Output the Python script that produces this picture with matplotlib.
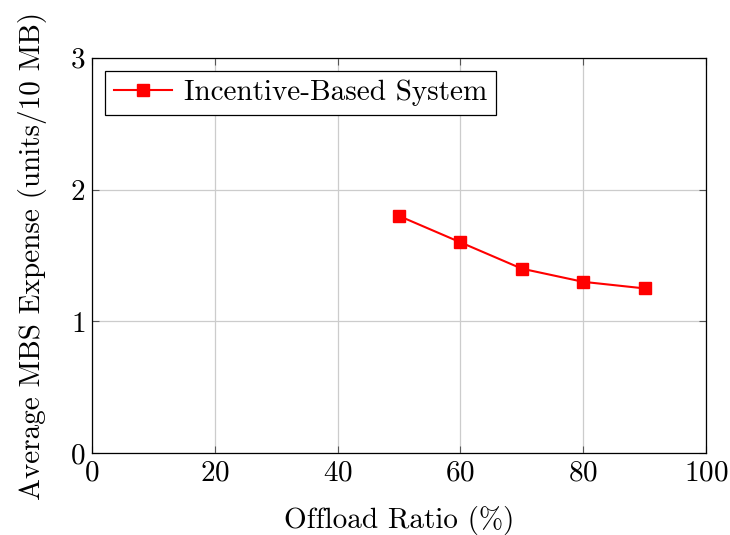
import matplotlib
matplotlib.use('Agg')
import matplotlib.pyplot as plt

plt.rcParams['font.family'] = 'serif'
plt.rcParams['font.serif'] = ['cmr10', 'DejaVu Serif']
plt.rcParams['mathtext.fontset'] = 'cm'
plt.rcParams['axes.formatter.use_mathtext'] = True

# data
offload_ratio = [50, 60, 70, 80, 90]
mbs_expense = [1.8, 1.6, 1.4, 1.3, 1.25]
series_name = 'Incentive-Based System'

fig = plt.figure(figsize=(7.3, 5.35), dpi=100)
ax = fig.add_axes([0.126, 0.153, 0.841, 0.739])

ax.plot(offload_ratio, mbs_expense, color='red', marker='s', markersize=8.5,
        linewidth=1.5, label=series_name)

ax.set_xlim(0, 100)
ax.set_ylim(0, 3)
ax.set_xticks([0, 20, 40, 60, 80, 100])
ax.set_yticks([0, 1, 2, 3])
ax.grid(True, color='#cccccc', linewidth=0.9)
ax.set_axisbelow(True)
ax.tick_params(direction='in', length=5, width=0.8, color='#555555',
               top=True, right=True, labelsize=21, pad=5)
for s in ax.spines.values():
    s.set_linewidth(0.9)

ax.set_xlabel('Offload Ratio (%)', fontsize=21, labelpad=14)
ax.set_ylabel('Average MBS Expense (units/10 MB)', fontsize=21, labelpad=16)

leg = ax.legend(loc='upper left', fontsize=21, fancybox=False, framealpha=1,
                edgecolor='black', borderpad=0.3, handlelength=2.0,
                handletextpad=0.4, borderaxespad=0.45)
leg.get_frame().set_linewidth(0.9)

fig.savefig('out.png', dpi=100)
